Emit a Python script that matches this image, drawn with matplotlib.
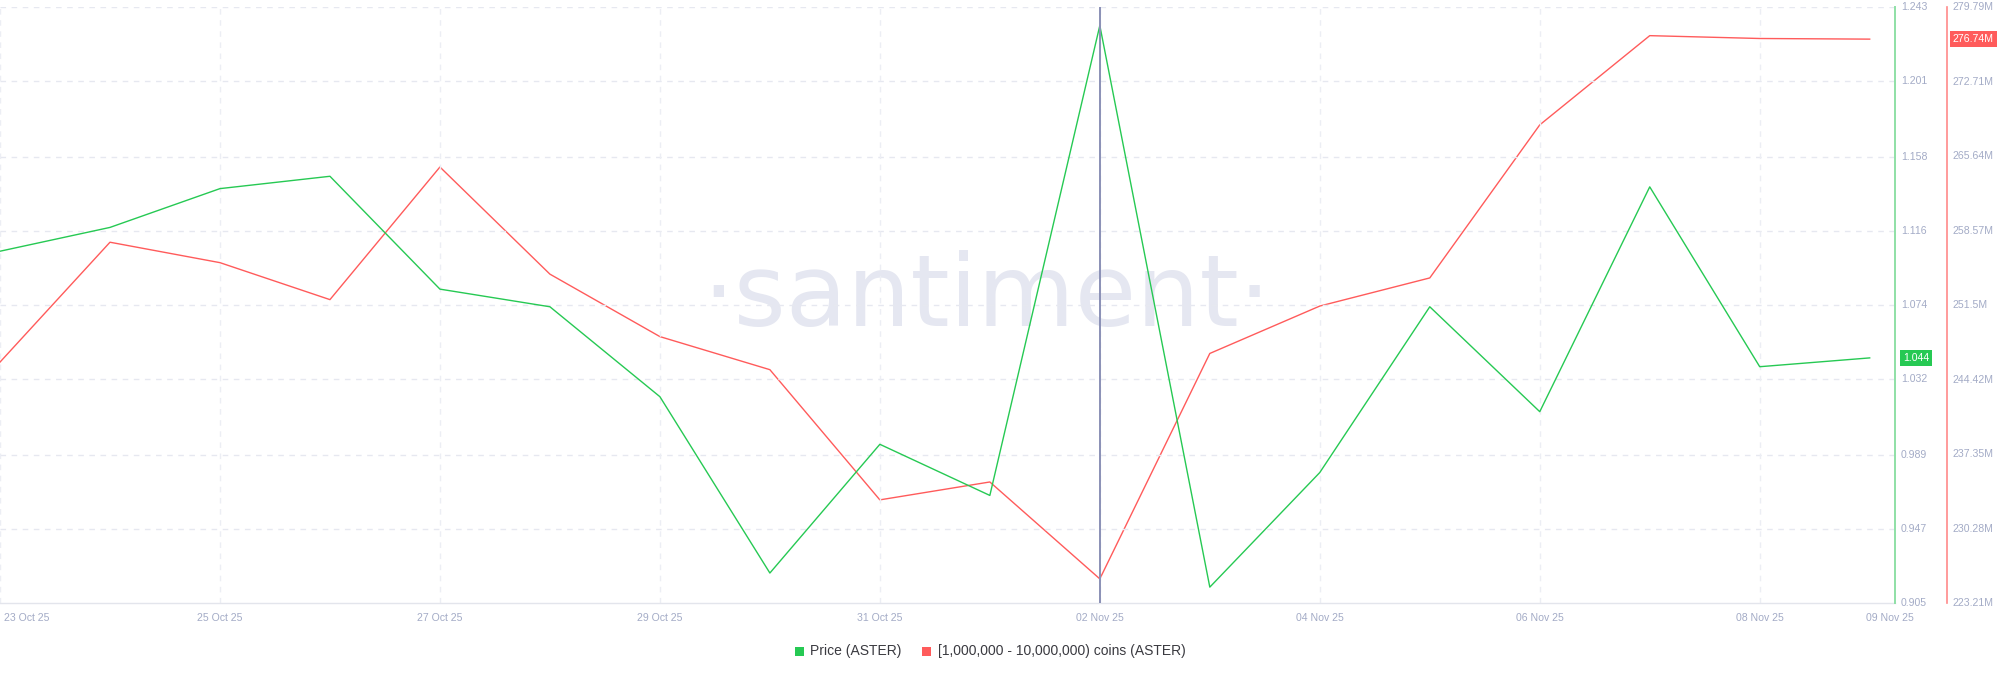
import matplotlib
matplotlib.use("Agg")
import matplotlib.pyplot as plt
import matplotlib.dates as mdates
from matplotlib.patches import Rectangle
import pandas as pd

plt.rcParams["font.family"] = ["Liberation Sans", "DejaVu Sans"]

dates = ["2025-10-23", "2025-10-24", "2025-10-25", "2025-10-26", "2025-10-27", "2025-10-28",
         "2025-10-29", "2025-10-30", "2025-10-31", "2025-11-01", "2025-11-02", "2025-11-03",
         "2025-11-04", "2025-11-05", "2025-11-06", "2025-11-07", "2025-11-08", "2025-11-09"]
price = [1.1045, 1.118, 1.140, 1.147, 1.083, 1.073, 1.022, 0.922, 0.995, 0.966,
         1.2325, 0.914, 0.979, 1.073, 1.0135, 1.141, 1.039, 1.044]
holders = [246.08, 257.46, 255.52, 252.01, 264.6, 254.43, 248.5, 245.36, 233.0, 234.7,
           225.5, 246.9, 251.4, 254.07, 268.6, 277.07, 276.8, 276.74]

price_ticks = [0.905, 0.947, 0.989, 1.032, 1.074, 1.116, 1.158, 1.201, 1.243]
price_tick_labels = ["0.905", "0.947", "0.989", "1.032", "1.074", "1.116", "1.158", "1.201", "1.243"]
holder_ticks = [223.21, 230.28, 237.35, 244.42, 251.5, 258.57, 265.64, 272.71, 279.79]
holder_tick_labels = ["223.21M", "230.28M", "237.35M", "244.42M", "251.5M", "258.57M", "265.64M", "272.71M", "279.79M"]
x_tick_dates = ["2025-10-23", "2025-10-25", "2025-10-27", "2025-10-29", "2025-10-31",
                "2025-11-02", "2025-11-04", "2025-11-06", "2025-11-08", "2025-11-09"]
x_tick_labels = ["23 Oct 25", "25 Oct 25", "27 Oct 25", "29 Oct 25", "31 Oct 25",
                 "02 Nov 25", "04 Nov 25", "06 Nov 25", "08 Nov 25", "09 Nov 25"]
marker_date = "2025-11-02"
legend_labels = ["Price (ASTER)", "[1,000,000 - 10,000,000) coins (ASTER)"]

GREEN = "#26c953"
RED = "#ff5b5b"
TICK_C = "#a3abc6"
GRID_C = "#e6e8f0"
W, H = 1999, 677

x = pd.to_datetime(dates)
xt = pd.to_datetime(x_tick_dates)
start = mdates.date2num(x[0])
span = 17.23

fig = plt.figure(figsize=(W / 100, H / 100), dpi=100)
ax = fig.add_axes([0.0, 1 - 603 / H, 1895 / W, (603 - 7) / H])
ax2 = ax.twinx()

ax.set_xlim(start, start + span)
ax.set_ylim(price_ticks[0], price_ticks[-1])
ax2.set_ylim(holder_ticks[0], holder_ticks[-1])

# watermark
ax.text(987 / 1895, (603 - 326) / 596, "·santiment·", transform=ax.transAxes, ha="center", va="baseline",
        fontsize=72, color="#e5e7f1", family="DejaVu Sans", fontweight="normal", zorder=0)

# grid
dash = (0, (4, 4))
for t in price_ticks[1:]:
    ax.axhline(t, color=GRID_C, lw=1, ls=dash, zorder=1)
for d in xt[:-1]:
    ax.axvline(mdates.date2num(d), color="#eceef4", lw=1, ls=dash, zorder=1)

ax2.plot(x, holders, color=RED, lw=1.0, zorder=3)
ax.plot(x, price, color=GREEN, lw=1.0, zorder=4)
ax.set_zorder(ax2.get_zorder() + 1)
ax.patch.set_visible(False)

ax.axvline(mdates.date2num(pd.to_datetime(marker_date)), color="#8a90b6", lw=1.4, zorder=5)

# spines
for a in (ax, ax2):
    for s in ("top", "left", "right"):
        a.spines[s].set_visible(False)
ax.spines["bottom"].set_color("#e3e5ec")
ax.spines["bottom"].set_linewidth(1.0)
ax2.spines["bottom"].set_visible(False)
ax.plot([1.0, 1.0], [0, 1], transform=ax.transAxes, color="#8fe0a6", lw=1.4, zorder=6, clip_on=False)
ax2.plot([1.0 + 52 / 1895] * 2, [0, 1], transform=ax2.transAxes, color="#ff8a8a", lw=1.2, clip_on=False)

# y ticks
ax.set_yticks([])
ax2.set_yticks([])
ytrans = ax.get_yaxis_transform()
for t, lab in zip(price_ticks, price_tick_labels):
    ax.text(1.0 + 6 / 1895, t, lab, transform=ytrans, ha="left", va="center",
            fontsize=7.6, color=TICK_C, clip_on=False)
ytrans2 = ax2.get_yaxis_transform()
for t, lab in zip(holder_ticks, holder_tick_labels):
    ax2.text(1.0 + 58 / 1895, t, lab, transform=ytrans2, ha="left", va="center",
             fontsize=7.6, color=TICK_C, clip_on=False)

# current value badges
ax.text(1.0 + 8 / 1895, price[-1], f"{price[-1]:.3f}", transform=ytrans, ha="left", va="center",
        fontsize=7.6, color="white", clip_on=False, zorder=10,
        bbox=dict(boxstyle="square,pad=0.25", fc=GREEN, ec="none"))
ax2.text(1.0 + 58 / 1895, holders[-1], f"{holders[-1]:.2f}M", transform=ytrans2, ha="left", va="center",
         fontsize=7.6, color="white", clip_on=False, zorder=10,
         bbox=dict(boxstyle="square,pad=0.25", fc=RED, ec="none"))

# x ticks
xpos = [mdates.date2num(d) for d in xt]
xpos[-1] = start + 17.18
xpos[0] = start + 0.04
ax.set_xticks(xpos)
ax.set_xticklabels(x_tick_labels)
ax.tick_params(axis="x", length=0, labelsize=7.6, labelcolor=TICK_C, pad=7)
ax.get_xticklabels()[0].set_ha("left")

# legend
ly = 1 - 651 / H
fig.patches.append(Rectangle((795 / W, ly - 4.5 / H), 9 / W, 9 / H, transform=fig.transFigure, fc=GREEN, ec="none"))
fig.text(810 / W, ly, legend_labels[0], fontsize=10, color="#3a3a40", va="center", ha="left")
fig.patches.append(Rectangle((922 / W, ly - 4.5 / H), 9 / W, 9 / H, transform=fig.transFigure, fc=RED, ec="none"))
fig.text(938 / W, ly, legend_labels[1], fontsize=10, color="#3a3a40", va="center", ha="left")

fig.savefig("out.png", dpi=100, facecolor="white")
